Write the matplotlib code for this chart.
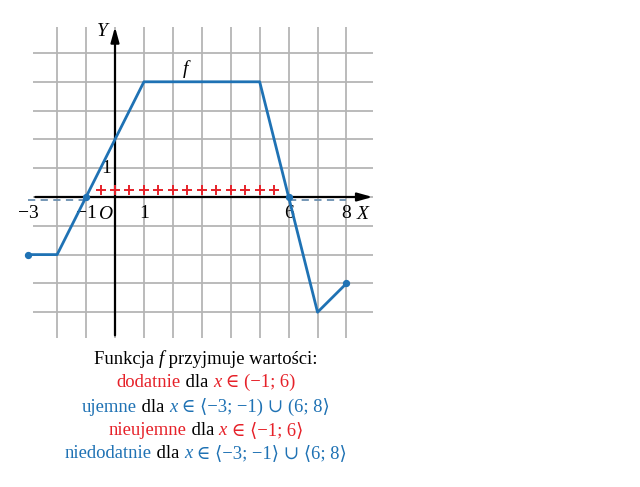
import matplotlib
matplotlib.use("Agg")
import matplotlib.pyplot as plt
from matplotlib.offsetbox import TextArea, HPacker, VPacker, AnnotationBbox

# dane wykresu
fx = [-3, -2, 1, 5, 7, 8]
fy = [-2, -2, 4, 4, -4, -3]
dot_x = [-3, -1, 6, 8]
dot_y = [-2, 0, 0, -3]
plus_x = [-0.5, 0, 0.5, 1, 1.5, 2, 2.5, 3, 3.5, 4, 4.5, 5, 5.5]
neg_parts = [(-3, -1), (6, 8)]
xtick_pos = [-3, -1, 1, 6, 8]
xtick_lab = ["\u22123", "\u22121", "1", "6", "8"]
grid_x = [-2, -1, 0, 1, 2, 3, 4, 5, 6, 7, 8]
grid_y = [-4, -3, -2, -1, 0, 1, 2, 3, 4, 5]

BLUE = "#1f72b4"
RED = "#e62129"
DASH = "#6a8fb0"
SERIF = ["Liberation Serif", "DejaVu Serif", "DejaVu Sans"]
plt.rcParams["font.family"] = SERIF

fig = plt.figure(figsize=(6.4, 4.87), dpi=100)
ax = fig.add_axes([0.035, 0.2998, 0.5516, 0.6505])
ax.set_xlim(-3.2, 9.0)
ax.set_ylim(-5.0, 6.0)
ax.axis("off")

# kratka
ax.vlines(grid_x, -4.9, 5.9, color="#b5b5b5", lw=1.3, zorder=1)
ax.hlines(grid_y, -2.85, 8.9, color="#b5b5b5", lw=1.3, zorder=1)

# osie
ax.annotate("", xy=(9.0, 0), xytext=(-2.85, 0),
            arrowprops=dict(arrowstyle="-|>,head_length=0.9,head_width=0.25",
                            color="black", lw=1.6), zorder=3)
ax.annotate("", xy=(0, 6.0), xytext=(0, -4.9),
            arrowprops=dict(arrowstyle="-|>,head_length=0.9,head_width=0.25",
                            color="black", lw=1.6), zorder=3)

# przerywane odcinki (wartości ujemne)
for a, b in neg_parts:
    ax.plot([a, b], [-0.12, -0.12], color=DASH, lw=1.3, ls=(0, (4, 3)), zorder=2)

# plusy
ax.scatter(plus_x, [0.26] * len(plus_x), marker="+", s=60, color=RED,
           linewidths=1.4, zorder=4)

# wykres funkcji
ax.plot(fx, fy, color=BLUE, lw=2, zorder=5)
ax.scatter(dot_x, dot_y, s=18, color=BLUE, zorder=6)

# podpisy
fs = 14
for xp, lab in zip(xtick_pos, xtick_lab):
    ax.text(xp, -0.27, lab, ha="center", va="top", fontsize=fs)
ax.text(-0.3, 1.0, "1", ha="center", va="center", fontsize=fs)
ax.text(-0.35, -0.3, "O", ha="center", va="top", fontsize=fs, style="italic")
ax.text(8.55, -0.3, "X", ha="center", va="top", fontsize=fs, style="italic")
ax.text(-0.45, 5.75, "Y", ha="center", va="center", fontsize=fs, style="italic")
ax.text(2.45, 4.45, "f", ha="center", va="center", fontsize=fs, style="italic")

# opis pod wykresem (kolorowe fragmenty)
fs2 = 13.4


def seg(t, c="black", it=False):
    return TextArea(t, textprops=dict(color=c, fontsize=fs2, family=SERIF,
                                      style="italic" if it else "normal"))


lines = [
    [seg("Funkcja "), seg("f", it=True), seg(" przyjmuje wartości:")],
    [seg("dodatnie", RED), seg(" dla "), seg("x", RED, True),
     seg(" \u2208 (\u22121; 6)", RED)],
    [seg("ujemne", BLUE), seg(" dla "), seg("x", BLUE, True),
     seg(" \u2208 \u27e8\u22123; \u22121) \u222a (6; 8\u27e9", BLUE)],
    [seg("nieujemne", RED), seg(" dla "), seg("x", RED, True),
     seg(" \u2208 \u27e8\u22121; 6\u27e9", RED)],
    [seg("niedodatnie", BLUE), seg(" dla "), seg("x", BLUE, True),
     seg(" \u2208 \u27e8\u22123; \u22121\u27e9 \u222a \u27e86; 8\u27e9", BLUE)],
]
rows = [HPacker(children=l, pad=0, sep=0, align="baseline") for l in lines]
box = VPacker(children=rows, pad=0, sep=4.5, align="center")
ab = AnnotationBbox(box, (206, 487 - 406), xycoords="figure pixels",
                    box_alignment=(0.5, 0.5), frameon=False)
fig.add_artist(ab)

fig.savefig("out.png", dpi=100)
